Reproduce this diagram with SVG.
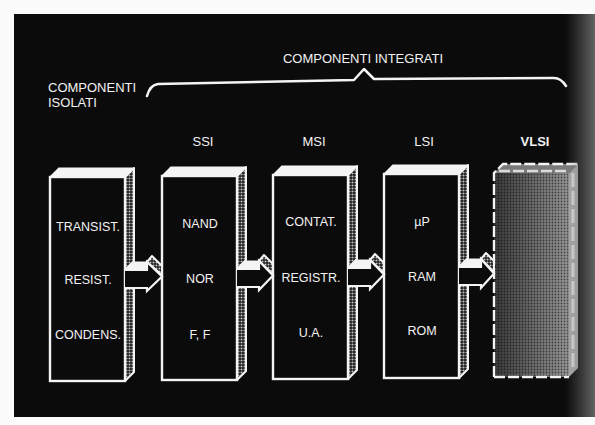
<svg xmlns="http://www.w3.org/2000/svg" width="595" height="425" viewBox="0 0 595 425">
<style>
 .lbl{font-family:"Liberation Sans",Arial,Helvetica,sans-serif;font-size:12.5px;fill:#f2f2f2;text-anchor:middle}
 .hdr{font-family:"Liberation Sans",Arial,Helvetica,sans-serif;font-size:13px;fill:#f2f2f2}
 .front{fill:#0c0b0b;stroke:#f4f4f4;stroke-width:2.4}
 .top{fill:#f4f4f4;stroke:#f4f4f4;stroke-width:1.2;stroke-linejoin:round}
 .side{fill:url(#dots);stroke:#f4f4f4;stroke-width:2;stroke-linejoin:round}
 .line{fill:none;stroke:#f4f4f4;stroke-width:2.5;stroke-linejoin:round;stroke-linecap:round}
 .ahead{fill:#0c0b0b;stroke:#f4f4f4;stroke-width:2.2;stroke-linejoin:miter}
 .dash{stroke:#f4f4f4;stroke-width:2.4;stroke-dasharray:11 3}
</style>
<defs>
 <pattern id="dots" width="3" height="3" patternUnits="userSpaceOnUse">
  <rect width="3" height="3" fill="#1a1a1a"/>
  <circle cx="1.5" cy="1.5" r="1.05" fill="#c4c4c4"/>
 </pattern>
 <pattern id="vdots" width="3" height="3" patternUnits="userSpaceOnUse">
  <circle cx="1.5" cy="1.5" r="0.9" fill="#000" fill-opacity="0.55"/>
 </pattern>
 <linearGradient id="vlsiG" x1="0" y1="0" x2="1" y2="0">
  <stop offset="0" stop-color="#3a3a3a"/>
  <stop offset="1" stop-color="#9a9a9a"/>
 </linearGradient>
 <linearGradient id="edge" x1="0" y1="0" x2="1" y2="0">
  <stop offset="0" stop-color="#777" stop-opacity="0"/>
  <stop offset="1" stop-color="#8a8a8a" stop-opacity="0.7"/>
 </linearGradient>
</defs>

<rect width="595" height="425" fill="#fbfbfb"/>
<rect x="14" y="14" width="581" height="403" fill="#0c0b0b"/>

<!-- header labels -->
<g id="labels">
 <text class="hdr" x="363" y="63" text-anchor="middle">COMPONENTI INTEGRATI</text>
 <text class="hdr" x="48" y="92">COMPONENTI</text>
 <text class="hdr" x="48" y="107">ISOLATI</text>
 <text class="hdr" x="203" y="146" text-anchor="middle">SSI</text>
 <text class="hdr" x="314" y="146" text-anchor="middle">MSI</text>
 <text class="hdr" x="424" y="146" text-anchor="middle">LSI</text>
 <text class="hdr" x="535" y="146" text-anchor="middle" font-weight="bold" fill="#e4e4e4">VLSI</text>
</g>

<!-- box 1 -->
<g id="box-isolati" transform="translate(50,177)">
 <polygon class="top" points="0,0 9,-9 84,-9 75,0"/>
 <polygon class="side" points="75,0 84,-9 84,84 75,93"/>
 <polygon class="side" points="75,113 84,104 84,195 75,204"/>
 <rect class="front" x="0" y="0" width="75" height="204"/>
 <text class="lbl" x="38" y="54">TRANSIST.</text>
 <text class="lbl" x="38" y="107">RESIST.</text>
 <text class="lbl" x="38" y="162">CONDENS.</text>
</g>

<!-- box 2 -->
<g id="box-ssi" transform="translate(162,176)">
 <polygon class="top" points="0,0 9,-9 84,-9 75,0"/>
 <polygon class="side" points="75,0 84,-9 84,84 75,93"/>
 <polygon class="side" points="75,113 84,104 84,195 75,204"/>
 <rect class="front" x="0" y="0" width="75" height="204"/>
 <text class="lbl" x="38" y="52">NAND</text>
 <text class="lbl" x="38" y="107">NOR</text>
 <text class="lbl" x="38" y="163">F, F</text>
</g>

<!-- box 3 -->
<g id="box-msi" transform="translate(273,175)">
 <polygon class="top" points="0,0 9,-9 84,-9 75,0"/>
 <polygon class="side" points="75,0 84,-9 84,84 75,93"/>
 <polygon class="side" points="75,113 84,104 84,195 75,204"/>
 <rect class="front" x="0" y="0" width="75" height="204"/>
 <text class="lbl" x="38" y="51">CONTAT.</text>
 <text class="lbl" x="38" y="107">REGISTR.</text>
 <text class="lbl" x="38" y="162">U.A.</text>
</g>

<!-- box 4 -->
<g id="box-lsi" transform="translate(384,174)">
 <polygon class="top" points="0,0 9,-9 84,-9 75,0"/>
 <polygon class="side" points="75,0 84,-9 84,84 75,93"/>
 <polygon class="side" points="75,113 84,104 84,195 75,204"/>
 <rect class="front" x="0" y="0" width="75" height="204"/>
 <text class="lbl" x="38" y="52">µP</text>
 <text class="lbl" x="38" y="107">RAM</text>
 <text class="lbl" x="38" y="161">ROM</text>
</g>

<!-- box 5 VLSI -->
<g id="box-vlsi" transform="translate(494,173)">
 <polygon points="0,0 9,-9 84,-9 75,0" fill="#7a7a7a"/>
 <polygon points="75,0 84,-9 84,195 75,204" fill="#a8a8a8"/>
 <rect x="0" y="0" width="75" height="204" fill="url(#vlsiG)"/>
 <rect x="0" y="0" width="75" height="204" fill="url(#vdots)"/>
 <polyline class="dash" fill="none" points="0,204 0,0 9,-9 84,-9"/>
 <line class="dash" x1="0" y1="204" x2="75" y2="204"/>
 <line class="dash" x1="5" y1="-2" x2="75" y2="-2" stroke-opacity="0.8"/>
 <line x1="79" y1="0" x2="79" y2="195" stroke="#d8d8d8" stroke-width="3" stroke-dasharray="14 4"/>
</g>

<!-- connectors -->
<g id="connectors">
 <path class="line" d="M147,96 Q150,85 158,84 L354,80 L364,69 L374,79 L554,78 Q561,78 566,86"/>
 <g id="arrow1" transform="translate(50,177)">
  <polygon class="top" points="76,93 84,85 99,85 97,93"/>
  <polygon class="side" points="97,85 102,79 112,89 112,98"/>
  <path class="ahead" d="M75,93 H97 V85 L112,99.5 L97,114 V111 H75"/>
 </g>
 <g id="arrow2" transform="translate(162,176)">
  <polygon class="top" points="76,93 84,85 99,85 97,93"/>
  <polygon class="side" points="97,85 102,79 111,88 111,98"/>
  <path class="ahead" d="M75,93 H97 V85 L111,99.5 L97,114 V111 H75"/>
 </g>
 <g id="arrow3" transform="translate(273,175)">
  <polygon class="top" points="76,93 84,85 99,85 97,93"/>
  <polygon class="side" points="97,85 102,79 111,88 111,98"/>
  <path class="ahead" d="M75,93 H97 V85 L111,99.5 L97,114 V111 H75"/>
 </g>
 <g id="arrow4" transform="translate(384,174)">
  <polygon class="top" points="76,93 84,85 99,85 97,93"/>
  <polygon class="side" points="97,85 102,79 110,87 110,98"/>
  <path class="ahead" d="M75,93 H97 V85 L110,99.5 L97,114 V111 H75"/>
 </g>
</g>

<rect x="565" y="14" width="30" height="403" fill="url(#edge)"/>
</svg>
